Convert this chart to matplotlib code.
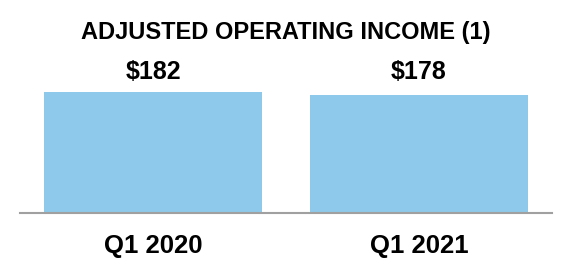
import matplotlib.pyplot as plt

# Data
categories = ["Q1 2020", "Q1 2021"]
values = [182, 178]
value_labels = ["$182", "$178"]
title = "ADJUSTED OPERATING INCOME (1)"

plt.rcParams['font.family'] = ['Liberation Sans', 'DejaVu Sans']

fig = plt.figure(figsize=(5.72, 2.8), dpi=100)
ax = fig.add_axes([20 / 572, 67 / 280, 532 / 572, 153 / 280])

x = range(len(categories))
ax.bar(x, values, width=0.82, color="#8EC8EA", zorder=2)
ax.set_xlim(-0.5, 1.5)
ax.set_ylim(0, 230)

# value labels sit on a common line above the bars
for xi, lab in zip(x, value_labels):
    ax.text(xi, 141 / 153, lab, transform=ax.get_xaxis_transform(),
            ha="center", va="center", fontsize=18, fontweight="bold")

for s in ["top", "right", "left"]:
    ax.spines[s].set_visible(False)
ax.spines["bottom"].set_color("#A0A0A0")
ax.spines["bottom"].set_linewidth(1.5)
ax.set_yticks([])
ax.set_xticks(list(x))
ax.set_xticklabels(categories, fontsize=18.5, fontweight="bold")
ax.tick_params(axis="x", length=0, pad=15)

fig.text(0.5, 1 - 32 / 280, title, ha="center", va="center", fontsize=17, fontweight="bold")

fig.savefig("out.png", dpi=100)
